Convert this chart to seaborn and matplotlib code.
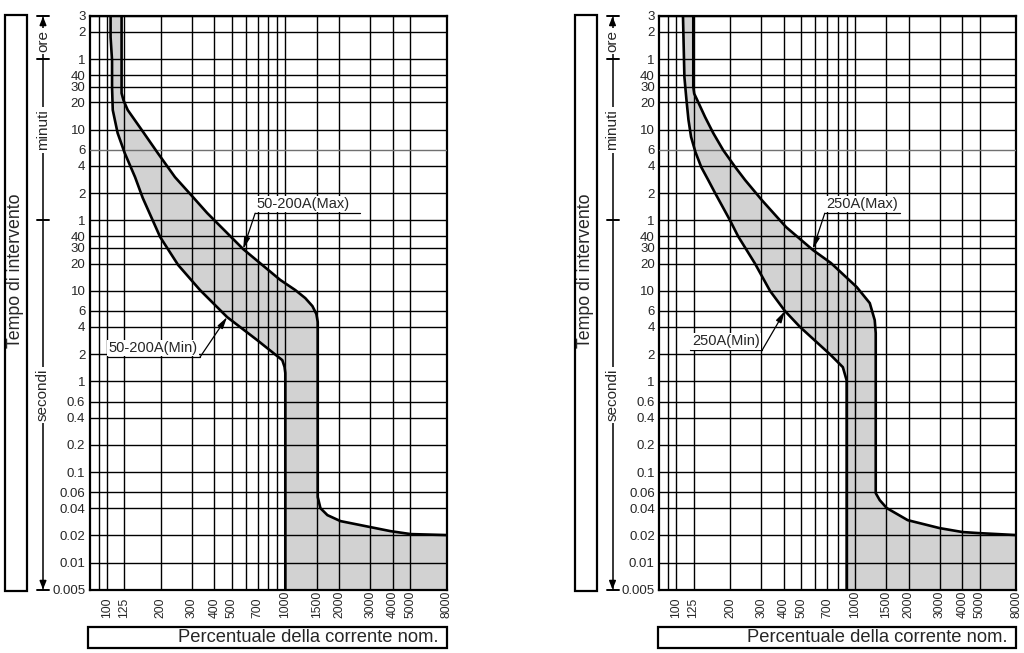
import numpy as np
import pandas as pd
import matplotlib
matplotlib.use("Agg")
import matplotlib.pyplot as plt
from matplotlib import font_manager
from matplotlib.ticker import NullLocator, NullFormatter
from matplotlib.patches import Rectangle
import seaborn as sns

# ------------------------------------------------------------------ data
X_TICKS = [100, 125, 200, 300, 400, 500, 700, 1000, 1500, 2000, 3000, 4000, 5000, 8000]
X_TICK_LABELS = ["100", "125", "200", "300", "400", "500", "700", "1000",
                 "1500", "2000", "3000", "4000", "5000", "8000"]
X_MINOR = [90, 600, 800, 900]
X_LIM = (80, 8000)

# time axis in seconds (3 h ... 5 ms)
Y_TICKS = [10800, 7200, 3600, 2400, 1800, 1200, 600, 360, 240, 120, 60,
           40, 30, 20, 10, 6, 4, 2, 1, 0.6, 0.4, 0.2, 0.1, 0.06, 0.04, 0.02, 0.01, 0.005]
Y_TICK_LABELS = ["3", "2", "1", "40", "30", "20", "10", "6", "4", "2", "1",
                 "40", "30", "20", "10", "6", "4", "2", "1", "0.6", "0.4", "0.2",
                 "0.1", "0.06", "0.04", "0.02", "0.01", "0.005"]
Y_LIM = (0.005, 10800)

# 50-200A panel
L_MIN_I = [105, 105, 107, 107, 108, 115, 126, 144, 159, 199, 251, 333, 472, 696, 962, 990, 1000, 1000]
L_MIN_T = [10800, 6300, 3500, 1770, 990, 551, 332, 180, 106, 39.3, 19.3, 10.2, 5.14, 2.86, 1.72, 1.45, 1.24, 0.005]
L_MAX_I = [121, 121, 124, 131, 157, 193, 241, 307, 365, 581, 937, 1138, 1294, 1419, 1493, 1520, 1520,
           1573, 1722, 2037, 3003, 3890, 5038, 8000]
L_MAX_T = [10800, 1520, 1270, 990, 596, 332, 180, 106, 72.3, 28.9, 13.2, 10.2, 8.32, 6.79, 5.55, 4.53, 0.053,
           0.040, 0.0335, 0.0288, 0.0247, 0.0223, 0.0207, 0.0202]

# 250A panel
R_MIN_I = [109, 111, 114, 117, 121, 128, 138, 151, 165, 200, 222, 243, 276, 335, 406, 493,
           725, 857, 900, 900]
R_MIN_T = [10800, 2300, 1280, 770, 500, 340, 232, 167, 120, 60, 40, 30, 20, 10, 6, 4,
           2, 1.44, 1.03, 0.005]
R_MAX_I = [124.5, 124.5, 126, 131, 145, 161, 183, 214, 243, 302, 412, 583, 735, 1026, 1213, 1293,
           1310, 1310, 1379, 1510, 1978, 2985, 4012, 4993, 8000]
R_MAX_T = [10800, 1774, 1500, 1276, 828, 552, 358, 232, 167, 100, 50.6, 28.2, 20.3, 11.0, 7.33, 4.76,
           3.42, 0.0586, 0.0491, 0.0401, 0.0295, 0.0241, 0.0218, 0.0212, 0.0202]

# annotations: label, arrow tip (I, t), leader start (I, t), underline from/to I, text centre I
L_LABELS = ["50-200A(Max)", "50-200A(Min)"]
R_LABELS = ["250A(Max)", "250A(Min)"]
L_TIPS = [(581, 29.0), (472, 5.14)]
R_TIPS = [(583, 29.0), (406, 6.0)]
L_STARTS = [(678, 72.0), (333, 1.86)]
R_STARTS = [(679, 72.0), (302, 2.2)]
L_UNDER = [(678, 2636), (100, 333)]
R_UNDER = [(679, 1782), (120, 302)]
L_TEXT_I = [1262, 181]
R_TEXT_I = [1094, 190]

X_TITLE = "Percentuale della corrente nom."
Y_TITLE = "Tempo di intervento"
UNIT_LABELS = ["ore", "minuti", "secondi"]

# ------------------------------------------------------------------ style
sns.set_style("white")
plt.rcParams["font.family"] = ["Liberation Sans", "DejaVu Sans"]

_names = {f.name for f in font_manager.fontManager.ttflist}
if "Liberation Sans Narrow" in _names:
    TICK_FONT = ["Liberation Sans Narrow", "Liberation Sans", "DejaVu Sans"]
    Y_TICK_SIZE, X_TICK_SIZE = 11, 10
else:
    TICK_FONT = ["Liberation Sans", "DejaVu Sans"]
    Y_TICK_SIZE, X_TICK_SIZE = 9.5, 8.7

W, H = 1024, 653
fig = plt.figure(figsize=(W / 100, H / 100), dpi=100)

AX_TOP, AX_BOT = 16, 590
AX_W = 357

overlay = fig.add_axes([0, 0, 1, 1], zorder=-1)
overlay.set_xlim(0, W)
overlay.set_ylim(H, 0)
overlay.axis("off")
overlay.patch.set_visible(False)


def ypix(t):
    lo, hi = np.log10(Y_LIM[0]), np.log10(Y_LIM[1])
    return AX_TOP + (hi - np.log10(t)) / (hi - lo) * (AX_BOT - AX_TOP)


def panel(x0, min_i, min_t, max_i, max_t, labels, tips, starts, unders, text_i):
    ax = fig.add_axes([x0 / W, (H - AX_BOT) / H, AX_W / W, (AX_BOT - AX_TOP) / H])
    ax.set_xscale("log")
    ax.set_yscale("log")

    # shaded band
    px = list(min_i) + [X_LIM[1]] + list(max_i)[::-1]
    py = list(min_t) + [Y_LIM[0]] + list(max_t)[::-1]
    ax.fill(px, py, color="#d2d2d2", lw=0, zorder=1)

    dmin = pd.DataFrame({"I": min_i, "t": min_t})
    dmax = pd.DataFrame({"I": max_i, "t": max_t})
    sns.lineplot(data=dmin, x="I", y="t", sort=False, estimator=None, color="black",
                 lw=1.9, ax=ax, zorder=3)
    sns.lineplot(data=dmax, x="I", y="t", sort=False, estimator=None, color="black",
                 lw=1.9, ax=ax, zorder=3)
    for ln in ax.get_lines():
        ln.set_solid_joinstyle("round")

    ax.set_xlim(*X_LIM)
    ax.set_ylim(*Y_LIM)
    ax.set_xticks(X_TICKS, labels=X_TICK_LABELS)
    ax.set_xticks(X_MINOR, minor=True)
    ax.xaxis.set_minor_formatter(NullFormatter())
    ax.set_yticks(Y_TICKS, labels=Y_TICK_LABELS)
    ax.yaxis.set_minor_locator(NullLocator())
    ax.set_xlabel("")
    ax.set_ylabel("")

    ax.set_axisbelow(False)
    ax.grid(True, which="both", axis="x", color="black", lw=1.0)
    ax.grid(True, which="major", axis="y", color="black", lw=1.0)
    ygl = ax.get_ygridlines()
    ygl[Y_TICKS.index(360)].set_color("#707070")

    ax.tick_params(axis="both", which="both", length=0)
    ax.tick_params(axis="y", labelsize=Y_TICK_SIZE, pad=3)
    ax.tick_params(axis="x", labelsize=X_TICK_SIZE, pad=20)
    for lab in ax.get_yticklabels():
        lab.set_family(TICK_FONT)
    for lab in ax.get_xticklabels():
        lab.set_family(TICK_FONT)
        lab.set_rotation(90)
        lab.set_rotation_mode("anchor")
        lab.set_horizontalalignment("left")
        lab.set_verticalalignment("center")

    for s in ax.spines.values():
        s.set_visible(True)
        s.set_color("black")
        s.set_linewidth(1.6)

    # annotations
    for lab, tip, st, und, ti in zip(labels, tips, starts, unders, text_i):
        ax.plot([und[0], und[1]], [st[1], st[1]], color="black", lw=0.9, zorder=4)
        ax.annotate("", xy=tip, xytext=st,
                    arrowprops=dict(arrowstyle="-|>,head_length=0.7,head_width=0.18",
                                    color="black", lw=0.9, shrinkA=0, shrinkB=0),
                    zorder=4)
        ax.annotate(lab, xy=(ti, st[1]), xytext=(0, 1.5), textcoords="offset points",
                    ha="center", va="bottom", fontsize=10.5, zorder=5,
                    bbox=dict(fc="white", ec="none", pad=0.8))

    # ---- frame decorations in pixel space
    ox = x0 - 89.5
    overlay.add_patch(Rectangle((5 + ox, 15), 22, 576, fill=False, lw=1.6, ec="black"))
    overlay.text(16 + ox, 271, Y_TITLE, rotation=90, ha="center", va="center",
                 fontsize=12.8)
    overlay.add_patch(Rectangle((88 + ox, 627), 358.5, 21, fill=False, lw=1.6, ec="black"))
    overlay.text(438 + ox, 638, X_TITLE, ha="right", va="center", fontsize=13.2)

    bx = 43 + ox
    bars = [ypix(Y_LIM[1]), ypix(3600), ypix(60), ypix(Y_LIM[0])]
    overlay.plot([bx, bx], [bars[0], bars[-1]], color="black", lw=1.1)
    for yb in bars:
        overlay.plot([bx - 6, bx + 6], [yb, yb], color="black", lw=1.4)
    ap = dict(arrowstyle="-|>,head_length=0.5,head_width=0.2", color="black", lw=1.1,
              shrinkA=0, shrinkB=0)
    overlay.annotate("", xy=(bx, bars[0] + 0.5), xytext=(bx, bars[0] + 9), arrowprops=ap)
    overlay.annotate("", xy=(bx, bars[-1] - 0.5), xytext=(bx, bars[-1] - 9), arrowprops=ap)
    for lab, yc in zip(UNIT_LABELS, [41, 130, 395]):
        overlay.text(bx, yc, lab, rotation=90, ha="center", va="center", fontsize=11,
                     bbox=dict(fc="white", ec="none", pad=1.5), zorder=4)
    return ax


panel(89.5, L_MIN_I, L_MIN_T, L_MAX_I, L_MAX_T, L_LABELS, L_TIPS, L_STARTS, L_UNDER, L_TEXT_I)
panel(659, R_MIN_I, R_MIN_T, R_MAX_I, R_MAX_T, R_LABELS, R_TIPS, R_STARTS, R_UNDER, R_TEXT_I)

fig.savefig("out.png", dpi=100)
